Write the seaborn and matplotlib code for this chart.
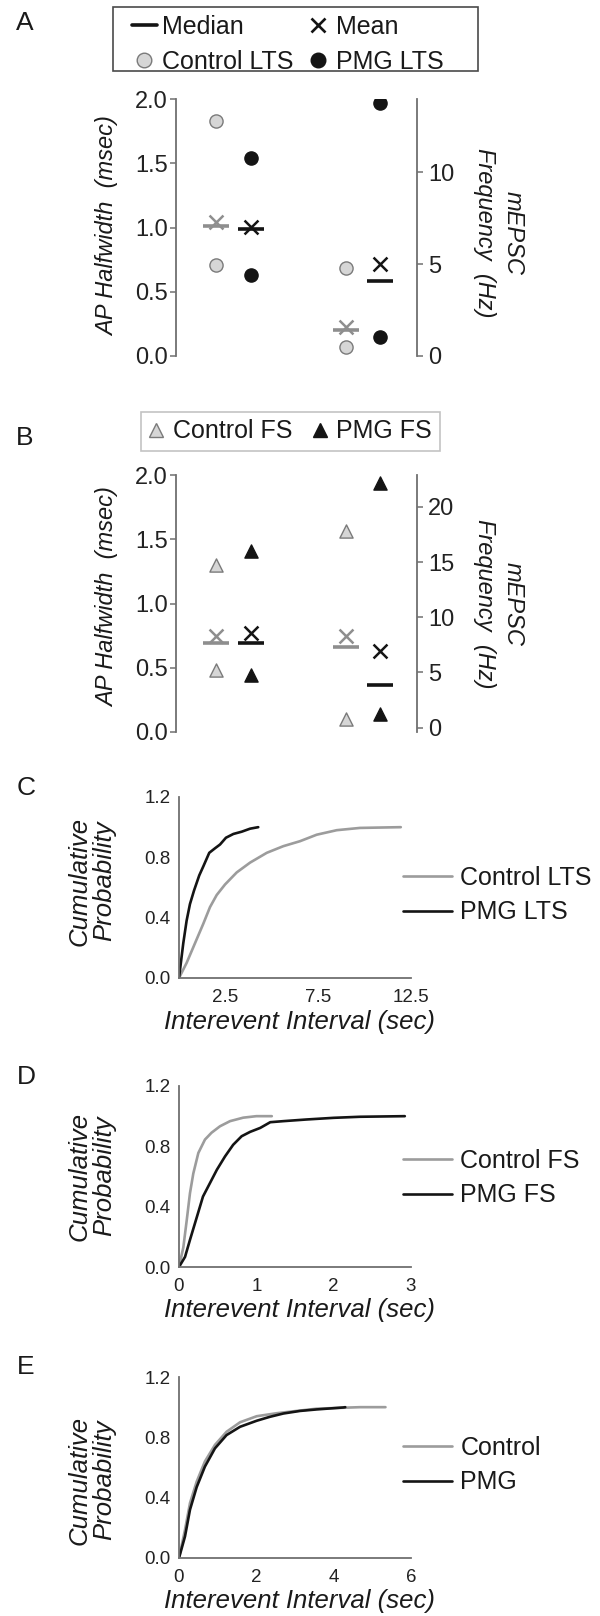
import matplotlib
matplotlib.use("Agg")
import matplotlib.pyplot as plt
from matplotlib.lines import Line2D
from matplotlib.patches import Rectangle
from matplotlib.ticker import FormatStrFormatter
import pandas as pd
import seaborn as sns

sns.set_style("white")
plt.rcParams["font.family"] = ["Liberation Sans", "DejaVu Sans"]
plt.rcParams["text.color"] = "#1a1a1a"

# ---------------- data ----------------
# A: LTS interneurons -- AP halfwidth (msec) and mEPSC frequency (Hz)
lts_ap_control = [1.83, 0.71]
lts_ap_pmg = [1.54, 0.63]
lts_ap_median = [1.01, 0.99]      # control, PMG
lts_ap_mean = [1.04, 1.005]
lts_freq_control = [4.8, 0.5]
lts_freq_pmg = [13.8, 1.05]
lts_freq_median = [1.4, 4.1]
lts_freq_mean = [1.6, 5.0]

# B: FS interneurons
fs_ap_control = [1.30, 0.48]
fs_ap_pmg = [1.41, 0.44]
fs_ap_median = [0.69, 0.69]
fs_ap_mean = [0.75, 0.77]
fs_freq_control = [17.8, 0.8]
fs_freq_pmg = [22.2, 1.2]
fs_freq_median = [7.3, 3.9]
fs_freq_mean = [8.3, 6.9]

# C: cumulative interevent interval, LTS (sec)
ctrl_lts_x = [0, 0.41, 0.86, 1.31, 1.67, 2.03, 2.48, 3.11, 3.83, 4.73, 5.62, 6.52, 7.42, 8.50, 9.75, 11.95]
ctrl_lts_y = [0, 0.10, 0.23, 0.36, 0.47, 0.55, 0.62, 0.70, 0.765, 0.83, 0.874, 0.907, 0.95, 0.98, 0.995, 1.0]
pmg_lts_x = [0, 0.23, 0.41, 0.59, 0.81, 1.09, 1.31, 1.63, 1.94, 2.21, 2.53, 2.93, 3.38, 3.83, 4.27]
pmg_lts_y = [0, 0.23, 0.38, 0.49, 0.58, 0.68, 0.74, 0.83, 0.86, 0.885, 0.93, 0.955, 0.97, 0.99, 1.0]

# D: cumulative interevent interval, FS (sec)
ctrl_fs_x = [0, 0.056, 0.10, 0.142, 0.185, 0.25, 0.336, 0.42, 0.53, 0.66, 0.83, 1.0, 1.2]
ctrl_fs_y = [0, 0.13, 0.31, 0.49, 0.62, 0.756, 0.845, 0.89, 0.933, 0.967, 0.99, 1.0, 1.0]
pmg_fs_x = [0, 0.078, 0.142, 0.23, 0.31, 0.40, 0.49, 0.595, 0.70, 0.81, 0.92, 1.05, 1.18, 1.35, 1.65, 2.0, 2.34, 2.92]
pmg_fs_y = [0, 0.067, 0.18, 0.33, 0.467, 0.556, 0.645, 0.733, 0.81, 0.867, 0.896, 0.922, 0.96, 0.967, 0.978, 0.989, 0.996, 1.0]

# E: cumulative interevent interval, all cells (sec)
ctrl_all_x = [0, 0.155, 0.284, 0.457, 0.67, 0.93, 1.23, 1.58, 2.01, 2.53, 3.04, 3.56, 4.68, 5.34]
ctrl_all_y = [0, 0.187, 0.364, 0.506, 0.64, 0.75, 0.837, 0.90, 0.94, 0.96, 0.975, 0.99, 1.0, 1.0]
pmg_all_x = [0, 0.155, 0.284, 0.457, 0.67, 0.93, 1.23, 1.58, 2.01, 2.35, 2.70, 3.13, 3.56, 4.25, 4.30]
pmg_all_y = [0, 0.143, 0.32, 0.47, 0.606, 0.727, 0.815, 0.87, 0.91, 0.936, 0.958, 0.975, 0.985, 0.998, 1.0]

ap_ticks = [0.0, 0.5, 1.0, 1.5, 2.0]
lts_freq_ticks = [0, 5, 10]
fs_freq_ticks = [0, 5, 10, 15, 20]

# ---------------- style ----------------
CTRL_FACE = "#d6d6d6"
CTRL_EDGE = "#7a7a7a"
CTRL_LINE = "#8e8e8e"
PMG = "#141414"
CURVE_GRAY = "#9c9c9c"
SPINE = "#707070"
TICKLABEL = "#222222"

W, H = 600, 1616
fig = plt.figure(figsize=(W / 100, H / 100), dpi=100)


def fx(px):
    return px / W


def fy(py):
    return 1 - py / H


DODGE = 0.135


def draw_group(axis, gx, ctrl_vals, pmg_vals, med, mean, marker):
    xc, xp = gx - DODGE, gx + DODGE
    sns.scatterplot(x=[xc] * len(ctrl_vals), y=ctrl_vals, ax=axis, marker=marker, s=90,
                    color=CTRL_FACE, edgecolor=CTRL_EDGE, linewidth=1.0, zorder=3, legend=False)
    sns.scatterplot(x=[xp] * len(pmg_vals), y=pmg_vals, ax=axis, marker=marker, s=90,
                    color=PMG, edgecolor=PMG, linewidth=1.0, zorder=3, legend=False)
    for x, m, mu, col in [(xc, med[0], mean[0], CTRL_LINE), (xp, med[1], mean[1], PMG)]:
        sns.scatterplot(x=[x], y=[m], ax=axis, marker="_", s=330, color=col,
                        linewidth=2.6, zorder=4, legend=False)
        sns.scatterplot(x=[x], y=[mu], ax=axis, marker="x", s=100, color=col,
                        linewidth=1.8, zorder=4, legend=False)


def dot_panel(top_px, bot_px, ap_c, ap_p, ap_med, ap_mean, fr_c, fr_p, fr_med, fr_mean,
              marker, fr_lim, fr_ticks, ylab_y):
    ax = fig.add_axes([fx(176), fy(bot_px), fx(417) - fx(176), (bot_px - top_px) / H])
    ax2 = ax.twinx()
    draw_group(ax, 0, ap_c, ap_p, ap_med, ap_mean, marker)
    draw_group(ax2, 1, fr_c, fr_p, fr_med, fr_mean, marker)
    ax.set_xlim(-0.444, 1.417)
    ax.set_ylim(0, 2.0)
    ax2.set_ylim(*fr_lim)
    ax.set_yticks(ap_ticks)
    ax.yaxis.set_major_formatter(FormatStrFormatter("%.1f"))
    ax2.set_yticks(fr_ticks)
    ax.set_xticks([])
    for a in (ax, ax2):
        a.set_xlabel("")
        a.set_ylabel("")
        for s in a.spines.values():
            s.set_visible(False)
        a.tick_params(axis="y", direction="out", length=4, width=1.1, color=SPINE,
                      labelsize=17, labelcolor=TICKLABEL, pad=2)
    ax.spines["left"].set_visible(True)
    ax.spines["left"].set_color(SPINE)
    ax.spines["left"].set_linewidth(1.3)
    ax2.spines["right"].set_visible(True)
    ax2.spines["right"].set_color(SPINE)
    ax2.spines["right"].set_linewidth(1.3)
    ax2.tick_params(axis="y", pad=4)
    fig.text(fx(108), fy(ylab_y), "AP Halfwidth  (msec)", rotation=90, ha="center",
             va="center", fontsize=17, style="italic")
    fig.text(fx(499), fy(ylab_y + 7), "mEPSC\nFrequency  (Hz)", rotation=270, ha="center",
             va="center", fontsize=17, style="italic", linespacing=1.3,
             multialignment="center")
    return ax


def cdf_panel(top_px, bot_px, curves, xlim, xticks, xticklabels, leg_y, ylab_y, xlab_y):
    ax = fig.add_axes([fx(179), fy(bot_px), fx(411) - fx(179), (bot_px - top_px) / H])
    for xs, ys, lab, col in curves:
        df = pd.DataFrame({"interval": xs, "prob": ys})
        sns.lineplot(data=df, x="interval", y="prob", ax=ax, color=col, lw=1.9,
                     label=lab, sort=False, estimator=None)
    ax.set_xlim(*xlim)
    ax.set_ylim(0, 1.2)
    ax.set_xticks(xticks)
    ax.set_xticklabels(xticklabels)
    ax.set_yticks([0.0, 0.4, 0.8, 1.2])
    ax.yaxis.set_major_formatter(FormatStrFormatter("%.1f"))
    ax.set_xlabel("")
    ax.set_ylabel("")
    for side in ("top", "right"):
        ax.spines[side].set_visible(False)
    for side in ("left", "bottom"):
        ax.spines[side].set_color(SPINE)
        ax.spines[side].set_linewidth(1.3)
    ax.tick_params(direction="out", length=4, width=1.1, color=SPINE, labelsize=13.5,
                   labelcolor=TICKLABEL, pad=2)
    ax.tick_params(axis="x", pad=4)
    ax.legend(loc="center left", bbox_to_anchor=(fx(403), fy(leg_y)),
              bbox_transform=fig.transFigure, frameon=False, fontsize=18,
              handlelength=1.95, handletextpad=0.35, borderpad=0, borderaxespad=0,
              labelspacing=0.42)
    fig.text(fx(92), fy(ylab_y), "Cumulative\nProbability", rotation=90, ha="center",
             va="center", fontsize=18.5, style="italic", linespacing=1.0,
             multialignment="center")
    fig.text(fx(300), fy(xlab_y), "Interevent Interval (sec)", ha="center", va="center",
             fontsize=18.5, style="italic")
    return ax


# ---- A ----
dot_panel(99, 356, lts_ap_control, lts_ap_pmg, lts_ap_median, lts_ap_mean,
          lts_freq_control, lts_freq_pmg, lts_freq_median, lts_freq_mean,
          "o", (0, 14), lts_freq_ticks, 226)

median_h = Line2D([], [], color=PMG, lw=2.6)
mean_h = Line2D([], [], color=PMG, marker="x", markersize=10, mew=1.9, ls="None")
ctrl_circ = Line2D([], [], marker="o", ls="None", markersize=10.5, mfc=CTRL_FACE,
                   mec=CTRL_EDGE, mew=1.0)
pmg_circ = Line2D([], [], marker="o", ls="None", markersize=10.5, mfc=PMG, mec=PMG)
fig.legend(handles=[median_h, ctrl_circ, mean_h, pmg_circ],
           labels=["Median", "Control LTS", "Mean", "PMG LTS"], ncol=2,
           loc="upper left", bbox_to_anchor=(fx(131.5), fy(15)), frameon=False,
           fontsize=18, handlelength=1.0, handletextpad=0.22, columnspacing=0.48,
           borderpad=0, labelspacing=0.44, borderaxespad=0)
fig.patches.append(Rectangle((fx(113), fy(71)), fx(478) - fx(113), 64 / H,
                             transform=fig.transFigure, fill=False,
                             edgecolor="#4a4a4a", linewidth=1.2))

# ---- B ----
dot_panel(475, 732, fs_ap_control, fs_ap_pmg, fs_ap_median, fs_ap_mean,
          fs_freq_control, fs_freq_pmg, fs_freq_median, fs_freq_mean,
          "^", (-0.4, 22.9), fs_freq_ticks, 597)

ctrl_tri = Line2D([], [], marker="^", ls="None", markersize=10.5, mfc=CTRL_FACE,
                  mec=CTRL_EDGE, mew=1.0)
pmg_tri = Line2D([], [], marker="^", ls="None", markersize=10.5, mfc=PMG, mec=PMG)
leg_b = fig.legend(handles=[ctrl_tri, pmg_tri], labels=["Control FS", "PMG FS"], ncol=2,
                   loc="upper left", bbox_to_anchor=(fx(141), fy(412)), frameon=True,
                   fancybox=False, edgecolor="#b4b4b4", fontsize=18, handlelength=0.6,
                   handletextpad=0.38, columnspacing=0.78, borderpad=0.3,
                   borderaxespad=0)
leg_b.get_frame().set_linewidth(1.2)

# ---- C, D, E ----
cdf_panel(797, 978, [(ctrl_lts_x, ctrl_lts_y, "Control LTS", CURVE_GRAY),
                     (pmg_lts_x, pmg_lts_y, "PMG LTS", PMG)],
          (0, 12.5), [2.5, 7.5, 12.5], ["2.5", "7.5", "12.5"], 895, 881, 1022)
cdf_panel(1086, 1267, [(ctrl_fs_x, ctrl_fs_y, "Control FS", CURVE_GRAY),
                       (pmg_fs_x, pmg_fs_y, "PMG FS", PMG)],
          (0, 3), [0, 1, 2, 3], ["0", "1", "2", "3"], 1178, 1176, 1310)
cdf_panel(1377, 1558, [(ctrl_all_x, ctrl_all_y, "Control", CURVE_GRAY),
                       (pmg_all_x, pmg_all_y, "PMG", PMG)],
          (0, 6), [0, 2, 4, 6], ["0", "2", "4", "6"], 1465, 1480, 1601)

# panel letters
for letter, (px, py) in {"A": (25, 23), "B": (25, 438), "C": (26, 788),
                         "D": (26, 1077), "E": (26, 1367)}.items():
    fig.text(fx(px), fy(py), letter, ha="center", va="center", fontsize=19)

fig.savefig("out.png", dpi=100, facecolor="white")
